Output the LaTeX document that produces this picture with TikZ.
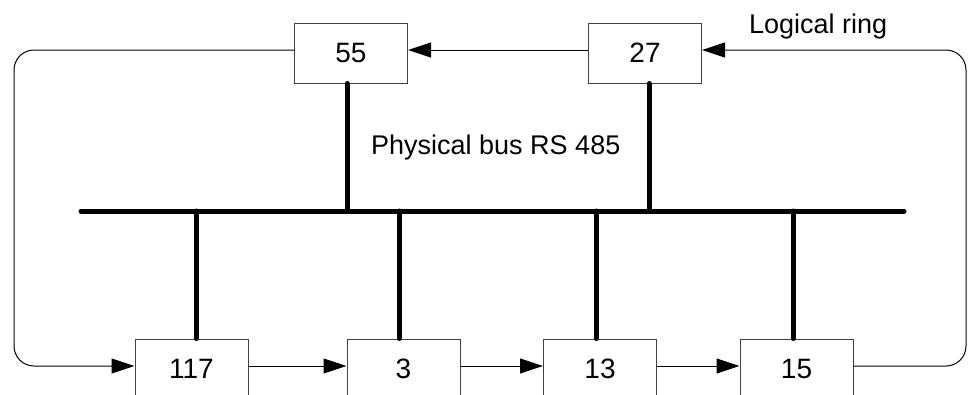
\documentclass[tikz,border=0pt]{standalone}
\usepackage{fontspec}
\setmainfont{Liberation Sans}
\usetikzlibrary{arrows.meta}

\begin{document}
\begin{tikzpicture}[x=1pt, y=-1pt, >={Triangle[length=23pt, width=15pt]},
	station/.style={draw=black!75, line width=1pt, minimum width=113pt, minimum height=60pt, inner sep=0pt, font=\fontsize{28}{30}\selectfont},
	ring/.style={draw=black, line width=1pt},
	bus/.style={line width=5pt, line cap=round}]

	\useasboundingbox (0, 0) rectangle (970, 394);
	\clip (0, 0) rectangle (970, 394);

	\node (n55) [station] at (351, 53) {55};
	\node (n27) [station] at (645, 53) {27};

	\node (n117) [station] at (191.5, 369) {117};
	\node (n3) [station] at (403.5, 369) {3};
	\node (n13) [station] at (600, 369) {13};
	\node (n15) [station] at (796.5, 369) {15};

	\node (logic) [anchor=base west, inner sep=0pt, font=\fontsize{27}{30}\selectfont] at (749, 33) {Logical ring};
	\node (phys) [anchor=base west, inner sep=0pt, font=\fontsize{27}{30}\selectfont] at (371, 154) {Physical bus RS 485};

	\coordinate (busL) at (81, 211);
	\coordinate (busR) at (904, 211);
	\coordinate (b55) at (347, 211);
	\coordinate (b27) at (649, 211);
	\coordinate (b117) at (196, 211);
	\coordinate (b3) at (399, 211);
	\coordinate (b13) at (596, 211);
	\coordinate (b15) at (793, 211);

	\coordinate (tl) at (14, 50);
	\coordinate (bl) at (14, 366);
	\coordinate (tr) at (966, 50);
	\coordinate (br) at (966, 366);

	% physical bus
	\draw[bus] (busL) -- (busR);
	\draw[bus] (b55) -- (b55 |- n55.south);
	\draw[bus] (b27) -- (b27 |- n27.south);
	\draw[bus] (b117) -- (b117 |- n117.north);
	\draw[bus] (b3) -- (b3 |- n3.north);
	\draw[bus] (b13) -- (b13 |- n13.north);
	\draw[bus] (b15) -- (b15 |- n15.north);

	% logical ring
	\draw[->, ring] ([yshift=3pt]n27.west) -- ([yshift=3pt]n55.east);
	\draw[->, ring] ([yshift=3pt]n117.east) -- ([yshift=3pt]n3.west);
	\draw[->, ring] ([yshift=3pt]n3.east) -- ([yshift=3pt]n13.west);
	\draw[->, ring] ([yshift=3pt]n13.east) -- ([yshift=3pt]n15.west);

	\draw[->, ring] ([yshift=3pt]n55.west) {[rounded corners=20pt] -- (tl) -- (bl)} -- ([yshift=3pt]n117.west);
	\draw[->, ring] ([yshift=3pt]n15.east) {[rounded corners=20pt] -- (br) -- (tr)} -- ([yshift=3pt]n27.east);

\end{tikzpicture}
\end{document}
